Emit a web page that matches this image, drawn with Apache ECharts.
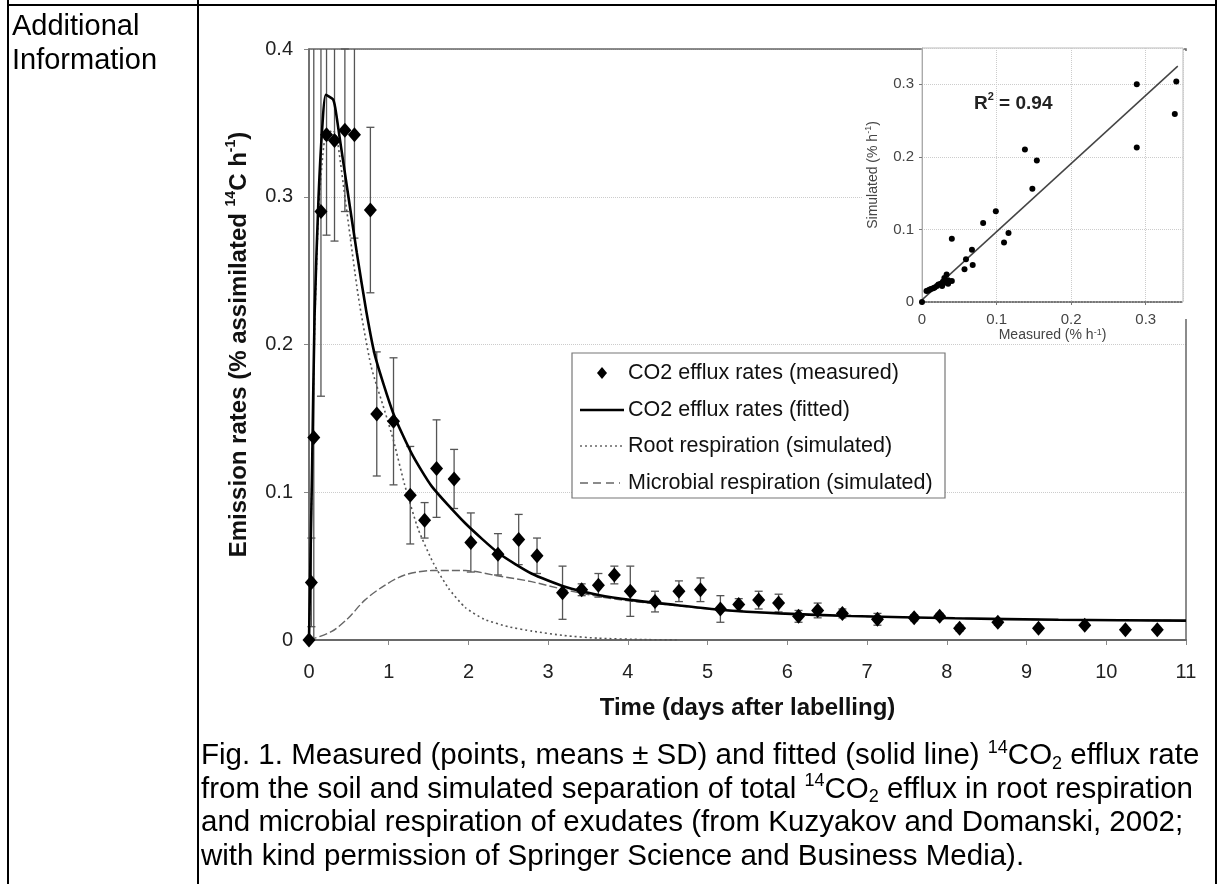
<!DOCTYPE html>
<html>
<head>
<meta charset="utf-8">
<script src="https://cdn.jsdelivr.net/npm/echarts@6/dist/echarts.min.js"></script>
<style>
html,body{margin:0;padding:0;background:#fff;}
#chart{width:1224px;height:884px;}
</style>
</head>
<body>
<div id="chart"></div>
<script>
// ---------- DATA ----------
const measuredDays  = [0, 0.03, 0.06, 0.15, 0.22, 0.32, 0.45, 0.57, 0.77, 0.85, 1.06, 1.27, 1.45, 1.60, 1.82, 2.03, 2.37, 2.63, 2.86, 3.18, 3.42, 3.63, 3.83, 4.03, 4.34, 4.64, 4.91, 5.16, 5.39, 5.64, 5.89, 6.14, 6.38, 6.69, 7.13, 7.59, 7.91, 8.16, 8.64, 9.15, 9.73, 10.24, 10.64];
const measuredRates = [0, 0.039, 0.137, 0.290, 0.342, 0.338, 0.345, 0.342, 0.291, 0.153, 0.148, 0.098, 0.081, 0.116, 0.109, 0.066, 0.058, 0.068, 0.057, 0.032, 0.034, 0.037, 0.044, 0.033, 0.026, 0.033, 0.034, 0.021, 0.024, 0.027, 0.025, 0.016, 0.020, 0.018, 0.014, 0.015, 0.016, 0.008, 0.012, 0.008, 0.010, 0.007, 0.007];
const measuredSD    = [0, 0.030, 0.270, 0.125, 0.068, 0.068, 0.055, 0.070, 0.056, 0.042, 0.043, 0.033, 0.012, 0.033, 0.020, 0.020, 0.014, 0.017, 0.012, 0.018, 0.004, 0.008, 0.006, 0.017, 0.007, 0.007, 0.008, 0.009, 0.004, 0.006, 0.006, 0.004, 0.005, 0.003, 0.004, 0.002, 0.002, 0.002, 0.002, 0.001, 0.001, 0.001, 0.001];

const fittedDays  = [0, 0.02, 0.04, 0.07, 0.12, 0.17, 0.21, 0.30, 0.33, 0.39, 0.50, 0.60, 0.72, 0.83, 1.06, 1.29, 1.54, 1.96, 2.38, 2.79, 3.21, 3.63, 4.05, 4.60, 5.15, 5.90, 6.80, 8.10, 9.40, 11.0];
const fittedRates = [0, 0.060, 0.120, 0.220, 0.300, 0.350, 0.369, 0.366, 0.360, 0.338, 0.298, 0.262, 0.222, 0.192, 0.153, 0.126, 0.104, 0.079, 0.0587, 0.045, 0.036, 0.0305, 0.027, 0.0237, 0.0205, 0.018, 0.0162, 0.0147, 0.0137, 0.0131];

const rootDays  = [0, 0.04, 0.07, 0.12, 0.20, 0.30, 0.35, 0.45, 0.62, 0.78, 0.95, 1.06, 1.20, 1.37, 1.56, 1.75, 1.96, 2.20, 2.50, 2.80, 3.20, 3.63, 4.20, 4.64];
const rootRates = [0, 0.120, 0.210, 0.290, 0.340, 0.345, 0.340, 0.300, 0.232, 0.185, 0.155, 0.135, 0.105, 0.075, 0.052, 0.035, 0.022, 0.014, 0.009, 0.006, 0.003, 0.0012, 0.0003, 0];

const microbialDays  = [0, 0.28, 0.49, 0.70, 0.95, 1.20, 1.54, 1.96, 2.38, 2.79, 3.21, 3.63, 4.05, 4.60, 5.15, 5.90, 6.80, 8.10, 9.40, 11.0];
const microbialRates = [0, 0.0056, 0.0147, 0.027, 0.037, 0.044, 0.047, 0.047, 0.0433, 0.0395, 0.034, 0.0295, 0.0262, 0.0233, 0.0203, 0.018, 0.0162, 0.0147, 0.0137, 0.0131];

const insetMeasured  = [0, 0.006, 0.008, 0.010, 0.012, 0.015, 0.017, 0.020, 0.022, 0.025, 0.027, 0.028, 0.030, 0.032, 0.033, 0.035, 0.035, 0.040, 0.040, 0.057, 0.059, 0.067, 0.068, 0.082, 0.099, 0.110, 0.116, 0.138, 0.148, 0.154, 0.288, 0.288, 0.339, 0.341];
const insetSimulated = [0, 0.015, 0.016, 0.017, 0.018, 0.019, 0.020, 0.022, 0.024, 0.025, 0.022, 0.028, 0.033, 0.027, 0.038, 0.030, 0.025, 0.029, 0.087, 0.045, 0.059, 0.072, 0.051, 0.109, 0.125, 0.082, 0.095, 0.210, 0.156, 0.195, 0.300, 0.213, 0.259, 0.304];
const fitLineX = [0, 0.343];
const fitLineY = [0.003, 0.325];

const seriesNames = ['CO2 efflux rates (measured)', 'CO2 efflux rates (fitted)', 'Root respiration (simulated)', 'Microbial respiration (simulated)'];
const captionLines = [
  'Fig. 1. Measured (points, means \u00b1 SD) and fitted (solid line) {sup|14}CO{sub|2} efflux rate',
  'from the soil and simulated separation of total {sup|14}CO{sub|2} efflux in root respiration',
  'and microbial respiration of exudates (from Kuzyakov and Domanski, 2002;',
  'with kind permission of Springer Science and Business Media).'
];
const sideLabel = ['Additional', 'Information'];

// ---------- CHART ----------
const FONT = '"Liberation Sans", Arial, Helvetica, sans-serif';
const Y_MAX = 0.4;
const zip = (a, b) => a.map((v, i) => [v, b[i]]);

const chart = echarts.init(document.getElementById('chart'), null, {renderer: 'canvas'});

const graphics = [];
// table lines
[[8, 0, 8, 884], [198, 0, 198, 884], [1216, 0, 1216, 884], [8, 5, 1216, 5]].forEach(l => {
  graphics.push({type: 'line', z: 1, shape: {x1: l[0], y1: l[1], x2: l[2], y2: l[3]}, style: {stroke: '#000', lineWidth: 2}});
});
sideLabel.forEach((t, i) => {
  graphics.push({type: 'text', x: 12, y: 27 + i * 34, z: 1,
    style: {text: t, font: '29px ' + FONT, fill: '#000', textVerticalAlign: 'middle'}});
});
captionLines.forEach((t, i) => {
  graphics.push({type: 'text', x: 201, y: 756 + i * 33.5, z: 1,
    style: {text: t, fontFamily: FONT, fontSize: 29.5, lineHeight: 34, fill: '#000', textVerticalAlign: 'middle',
      rich: {
        sup: {fontSize: 18, lineHeight: 18, verticalAlign: 'top', fontFamily: FONT, fill: '#000'},
        sub: {fontSize: 18, lineHeight: 18, verticalAlign: 'bottom', fontFamily: FONT, fill: '#000'}
      }}});
});
// white backdrop of the inset
graphics.push({type: 'rect', z: 3, shape: {x: 862, y: 51, width: 330, height: 268}, style: {fill: '#fff'}});
// R^2 text
graphics.push({type: 'text', x: 974, y: 104, z: 8,
  style: {text: 'R{sup|2} = 0.94', fontFamily: FONT, fontWeight: 'bold', fontSize: 19, lineHeight: 26, fill: '#222', textVerticalAlign: 'middle',
    rich: {sup: {fontSize: 11, lineHeight: 11, verticalAlign: 'top', fontWeight: 'bold', fontFamily: FONT, fill: '#222'}}}});

// legend box (drawn as graphic so the keys match the figure)
const LEG = {x: 572, y: 353, w: 373, h: 145, rowY: [373, 410, 446, 483], keyX1: 580, keyX2: 624, textX: 628};
const legendKeys = [
  {type: 'polygon', shape: {points: [[602, LEG.rowY[0] - 6], [607, LEG.rowY[0]], [602, LEG.rowY[0] + 6], [597, LEG.rowY[0]]]}, style: {fill: '#000'}},
  {type: 'line', shape: {x1: LEG.keyX1, y1: LEG.rowY[1], x2: LEG.keyX2, y2: LEG.rowY[1]}, style: {stroke: '#000', lineWidth: 2.6}},
  {type: 'line', shape: {x1: LEG.keyX1, y1: LEG.rowY[2], x2: LEG.keyX2, y2: LEG.rowY[2]}, style: {stroke: '#666', lineWidth: 1.4, lineDash: [2, 3]}},
  {type: 'line', shape: {x1: LEG.keyX1, y1: LEG.rowY[3], x2: LEG.keyX2 - 4, y2: LEG.rowY[3]}, style: {stroke: '#666', lineWidth: 1.4, lineDash: [8, 5]}}
];
graphics.push({type: 'rect', z: 9, shape: {x: LEG.x, y: LEG.y, width: LEG.w, height: LEG.h}, style: {fill: '#fff', stroke: '#777', lineWidth: 1.2}});
legendKeys.forEach(k => { k.z = 10; graphics.push(k); });
seriesNames.forEach((n, i) => {
  graphics.push({type: 'text', z: 10, x: LEG.textX, y: LEG.rowY[i],
    style: {text: n, fontFamily: FONT, fontSize: 21.5, fill: '#111', textVerticalAlign: 'middle'}});
});

const supRich = (size, weight) => ({
  sup: {fontSize: size, lineHeight: size, verticalAlign: 'top', fontWeight: weight, fontFamily: FONT}
});

const option = {
  backgroundColor: '#fff',
  animation: false,
  graphic: graphics,
  grid: [
    {left: 309, top: 49, width: 877, height: 591, show: true, borderColor: '#666', borderWidth: 1.5, backgroundColor: 'transparent', z: 2},
    {left: 922, top: 48, width: 261, height: 254, show: true, borderColor: '#bbb', borderWidth: 1, backgroundColor: '#fff', z: 4}
  ],
  xAxis: [
    {gridIndex: 0, type: 'value', min: 0, max: 11, interval: 1,
      axisLine: {show: true, lineStyle: {color: '#777', width: 2}},
      axisTick: {show: true, length: 5, lineStyle: {color: '#888'}},
      axisLabel: {margin: 22, fontFamily: FONT, fontSize: 20, color: '#222'},
      splitLine: {show: false},
      name: 'Time (days after labelling)', nameLocation: 'middle', nameGap: 56,
      nameTextStyle: {fontFamily: FONT, fontSize: 24, fontWeight: 'bold', color: '#111'}},
    {gridIndex: 1, type: 'value', min: 0, max: 0.35, interval: 0.1, z: 5,
      axisLine: {show: true, lineStyle: {color: '#555', type: 'dotted', width: 1.5}},
      axisTick: {show: true, length: 3, lineStyle: {color: '#777'}},
      axisLabel: {margin: 10, fontFamily: FONT, fontSize: 15, color: '#444', showMaxLabel: false,
        formatter: v => (v === 0 ? '0' : v.toFixed(1))},
      splitLine: {show: true, lineStyle: {color: '#ccc', type: 'dotted'}},
      name: 'Measured (% h{sup|-1})', nameLocation: 'middle', nameGap: 26,
      nameTextStyle: {fontFamily: FONT, fontSize: 14, color: '#444', rich: supRich(9, 'normal')}}
  ],
  yAxis: [
    {gridIndex: 0, type: 'value', min: 0, max: Y_MAX, interval: 0.1,
      axisLine: {show: true, lineStyle: {color: '#777', width: 1.5}},
      axisTick: {show: true, length: 5, lineStyle: {color: '#888'}},
      axisLabel: {margin: 16, fontFamily: FONT, fontSize: 20, color: '#222',
        formatter: v => (v === 0 ? '0' : v.toFixed(1))},
      splitLine: {show: true, lineStyle: {color: '#ccc', type: 'dotted', width: 1}},
      name: 'Emission rates (% assimilated {sup|14}C h{sup|-1})', nameLocation: 'middle', nameGap: 50,
      nameTextStyle: {fontFamily: FONT, fontSize: 24, fontWeight: 'bold', color: '#111', lineHeight: 30, rich: supRich(14, 'bold')}},
    {gridIndex: 1, type: 'value', min: 0, max: 0.35, interval: 0.1, z: 5,
      axisLine: {show: true, lineStyle: {color: '#aaa', width: 1}},
      axisTick: {show: true, length: 3, lineStyle: {color: '#777'}},
      axisLabel: {margin: 8, fontFamily: FONT, fontSize: 15, color: '#444', showMaxLabel: false,
        formatter: v => (v === 0 ? '0' : v.toFixed(1))},
      splitLine: {show: true, lineStyle: {color: '#ccc', type: 'dotted'}},
      name: 'Simulated (% h{sup|-1})', nameLocation: 'middle', nameGap: 40,
      nameTextStyle: {fontFamily: FONT, fontSize: 14, color: '#444', lineHeight: 18, rich: supRich(9, 'normal')}}
  ],
  series: [
    {
      name: 'errorbars', type: 'custom', xAxisIndex: 0, yAxisIndex: 0, z: 2, silent: true,
      data: measuredDays.map((d, i) => [d, measuredRates[i], measuredSD[i]]),
      encode: {x: 0, y: 1},
      renderItem: (params, api) => {
        const x = api.value(0), y = api.value(1), sd = api.value(2);
        if (!sd) return {type: 'group', children: []};
        const hi = Math.min(y + sd, Y_MAX), lo = Math.max(y - sd, 0);
        const pHi = api.coord([x, hi]), pLo = api.coord([x, lo]);
        const st = {stroke: '#555', lineWidth: 1.3};
        const ch = [{type: 'line', shape: {x1: pHi[0], y1: pHi[1], x2: pLo[0], y2: pLo[1]}, style: st}];
        if (y + sd <= Y_MAX) ch.push({type: 'line', shape: {x1: pHi[0] - 4, y1: pHi[1], x2: pHi[0] + 4, y2: pHi[1]}, style: st});
        if (y - sd >= 0) ch.push({type: 'line', shape: {x1: pLo[0] - 4, y1: pLo[1], x2: pLo[0] + 4, y2: pLo[1]}, style: st});
        return {type: 'group', children: ch};
      }
    },
    {
      name: seriesNames[3], type: 'line', xAxisIndex: 0, yAxisIndex: 0, z: 3,
      data: zip(microbialDays, microbialRates), showSymbol: false, symbol: 'none', smooth: 0.3,
      color: '#666', lineStyle: {color: '#666', width: 1.4, type: [8, 3]}
    },
    {
      name: seriesNames[2], type: 'line', xAxisIndex: 0, yAxisIndex: 0, z: 3,
      data: zip(rootDays, rootRates), showSymbol: false, symbol: 'none', smooth: 0.2,
      color: '#555', lineStyle: {color: '#555', width: 1.6, type: [2, 3]}
    },
    {
      name: seriesNames[1], type: 'line', xAxisIndex: 0, yAxisIndex: 0, z: 4,
      data: zip(fittedDays, fittedRates), showSymbol: false, symbol: 'none', smooth: 0.2,
      color: '#000', lineStyle: {color: '#000', width: 2.6}
    },
    {
      name: seriesNames[0], type: 'scatter', xAxisIndex: 0, yAxisIndex: 0, z: 5,
      data: zip(measuredDays, measuredRates), symbol: 'diamond', symbolSize: [13, 15],
      itemStyle: {color: '#000', opacity: 1}
    },
    {
      name: 'inset fit', type: 'line', xAxisIndex: 1, yAxisIndex: 1, z: 6,
      data: zip(fitLineX, fitLineY), showSymbol: false, symbol: 'none',
      lineStyle: {color: '#444', width: 1.5}
    },
    {
      name: 'inset points', type: 'scatter', xAxisIndex: 1, yAxisIndex: 1, z: 7,
      data: zip(insetMeasured, insetSimulated), symbol: 'circle', symbolSize: 6,
      itemStyle: {color: '#000', opacity: 1}
    }
  ]
};
chart.setOption(option);
</script>
</body>
</html>
